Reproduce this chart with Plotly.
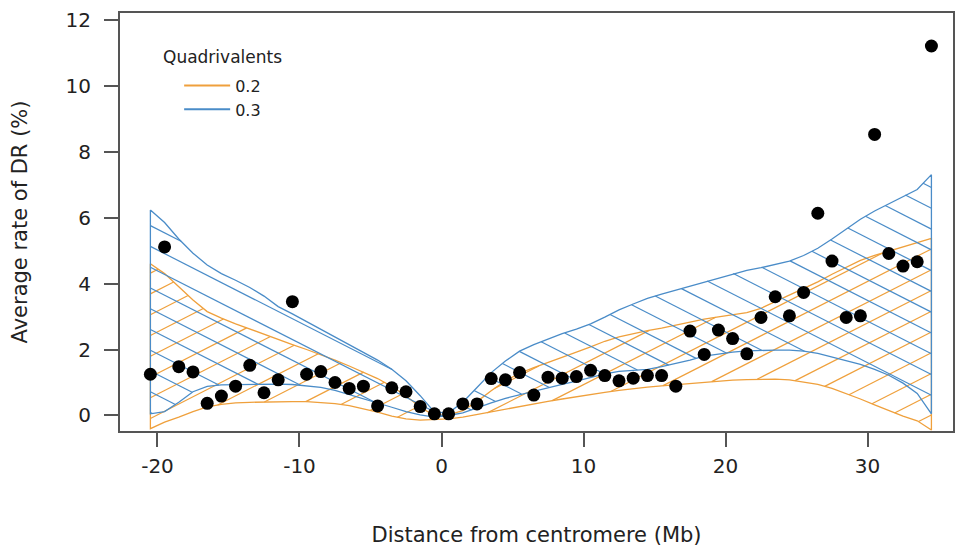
import numpy as np
import plotly.graph_objects as go

# ---- data ----
POINT_X = [-20.5, -19.5, -18.5, -17.5, -16.5, -15.5, -14.5, -13.5, -12.5, -11.5,
           -10.5, -9.5, -8.5, -7.5, -6.5, -5.5, -4.5, -3.5, -2.5, -1.5, -0.5,
           0.5, 1.5, 2.5, 3.5, 4.5, 5.5, 6.5, 7.5, 8.5, 9.5, 10.5, 11.5, 12.5,
           13.5, 14.5, 15.5, 16.5, 17.5, 18.5, 19.5, 20.5, 21.5, 22.5, 23.5,
           24.5, 25.5, 26.5, 27.5, 28.5, 29.5, 30.5, 31.5, 32.5, 33.5, 34.5]
POINT_Y = [1.25, 5.11, 1.48, 1.32, 0.37, 0.59, 0.89, 1.52, 0.69, 1.08,
           3.45, 1.25, 1.33, 1.00, 0.82, 0.89, 0.29, 0.84, 0.72, 0.27, 0.05,
           0.05, 0.35, 0.35, 1.12, 1.08, 1.30, 0.62, 1.16, 1.13, 1.18, 1.37, 1.21, 1.05,
           1.13, 1.21, 1.21, 0.89, 2.56, 1.85, 2.59, 2.33, 1.87, 2.97, 3.60,
           3.02, 3.73, 6.13, 4.68, 2.97, 3.02, 8.52, 4.91, 4.53, 4.66, 11.2]

BAND_X = POINT_X
# Quadrivalents 0.3 (blue) band
BLUE_UPPER = [6.23, 5.85, 5.35, 4.92, 4.56, 4.30, 4.10, 3.88, 3.62, 3.30,
              3.08, 2.85, 2.62, 2.38, 2.15, 1.92, 1.68, 1.40, 1.05, 0.60, 0.10,
              0.08, 0.40, 0.85, 1.30, 1.65, 1.95, 2.15, 2.32, 2.48, 2.62, 2.78, 2.98, 3.20,
              3.38, 3.55, 3.68, 3.80, 3.92, 4.05, 4.18, 4.30, 4.40, 4.48, 4.57,
              4.68, 4.85, 5.07, 5.35, 5.65, 5.95, 6.20, 6.42, 6.65, 6.85, 7.30]
BLUE_LOWER = [0.05, 0.12, 0.40, 0.72, 0.88, 0.93, 0.93, 0.94, 0.95, 0.95,
              0.94, 0.90, 0.85, 0.76, 0.65, 0.50, 0.38, 0.25, 0.12, 0.02, -0.05,
              0.00, 0.08, 0.22, 0.38, 0.52, 0.64, 0.74, 0.84, 0.94, 1.04, 1.14, 1.26, 1.34,
              1.37, 1.40, 1.48, 1.57, 1.68, 1.80, 1.86, 1.92, 1.96, 1.97, 1.98,
              1.98, 1.95, 1.88, 1.78, 1.66, 1.55, 1.40, 1.22, 0.98, 0.67, 0.05]
# Quadrivalents 0.2 (orange) band
ORANGE_UPPER = [4.60, 4.30, 3.90, 3.50, 3.15, 2.95, 2.78, 2.62, 2.45, 2.30,
                2.15, 2.00, 1.85, 1.68, 1.50, 1.32, 1.12, 0.88, 0.60, 0.25, 0.00,
                0.02, 0.15, 0.42, 0.75, 1.05, 1.28, 1.45, 1.60, 1.75, 1.92, 2.08, 2.25, 2.38,
                2.48, 2.57, 2.65, 2.74, 2.84, 2.92, 2.99, 3.06, 3.12, 3.25, 3.45,
                3.65, 3.85, 4.05, 4.28, 4.50, 4.70, 4.85, 4.98, 5.12, 5.25, 5.37]
ORANGE_LOWER = [-0.40, -0.20, -0.05, 0.12, 0.26, 0.34, 0.38, 0.40, 0.41, 0.42,
                0.42, 0.42, 0.40, 0.36, 0.30, 0.20, 0.10, -0.02, -0.10, -0.14, -0.12,
                -0.10, -0.05, 0.02, 0.10, 0.18, 0.27, 0.35, 0.43, 0.50, 0.57, 0.64, 0.70, 0.76,
                0.82, 0.86, 0.90, 0.94, 0.98, 1.01, 1.04, 1.07, 1.09, 1.10, 1.10,
                1.08, 1.02, 0.94, 0.82, 0.66, 0.50, 0.32, 0.14, -0.02, -0.16, -0.44]

X_TICKS = [-20, -10, 0, 10, 20, 30]
X_TICK_TEXT = ["-20", "-10", "0", "10", "20", "30"]
Y_TICKS = [0, 2, 4, 6, 8, 10, 12]
Y_TICK_TEXT = ["0", "2", "4", "6", "8", "10", "12"]
SERIES_NAMES = ["0.2", "0.3"]
LEGEND_TITLE = "Quadrivalents"
X_TITLE = "Distance from centromere (Mb)"
Y_TITLE = "Average rate of DR (%)"

# ---- style ----
ORANGE = "#EFA03C"
BLUE = "#4A8CC8"
AXIS = "#555555"
TEXT = "#222222"
FONT = "DejaVu Sans"
W, H = 960, 547
M = dict(l=120, r=7, t=13, b=116)
X_RANGE = [-22.64, 36.02]
Y_RANGE = [-0.47, 12.2]
KX = (W - M["l"] - M["r"]) / (X_RANGE[1] - X_RANGE[0])   # px per x unit
KY = (H - M["t"] - M["b"]) / (Y_RANGE[1] - Y_RANGE[0])   # px per y unit


def hatch_lines(lower, upper, angle_deg, spacing_px, phase=0.0):
    """Straight hatch segments clipped to the band between lower and upper."""
    xg = np.asarray(BAND_X, float)
    xs = np.linspace(xg[0], xg[-1], 8000)
    lo = np.interp(xs, xg, lower) * KY
    up = np.interp(xs, xg, upper) * KY
    X = xs * KX
    m = np.tan(np.radians(angle_deg))
    step = spacing_px / np.cos(np.radians(angle_deg))
    cmin = (lo - m * X).min()
    cmax = (up - m * X).max()
    ox, oy = [], []
    for c in np.arange(np.floor(cmin / step) * step + phase, cmax + step, step):
        Yl = m * X + c
        inside = (Yl >= lo) & (Yl <= up)
        if not inside.any():
            continue
        d = np.diff(inside.astype(int))
        starts = list(np.where(d == 1)[0] + 1)
        ends = list(np.where(d == -1)[0])
        if inside[0]:
            starts.insert(0, 0)
        if inside[-1]:
            ends.append(len(xs) - 1)
        for s, e in zip(starts, ends):
            if e > s:
                ox += [xs[s], xs[e], None]
                oy += [Yl[s] / KY, Yl[e] / KY, None]
    return ox, oy


fig = go.Figure()


def band(lower, upper, color, angle):
    hx, hy = hatch_lines(lower, upper, angle, 18.5)
    fig.add_trace(go.Scatter(x=hx, y=hy, mode="lines",
                             line=dict(color=color, width=1.2),
                             showlegend=False, hoverinfo="skip"))
    xs = list(BAND_X) + list(BAND_X[::-1]) + [BAND_X[0]]
    ys = list(upper) + list(lower[::-1]) + [upper[0]]
    fig.add_trace(go.Scatter(x=xs, y=ys, mode="lines",
                             line=dict(color=color, width=1.3),
                             showlegend=False, hoverinfo="skip"))


band(ORANGE_LOWER, ORANGE_UPPER, ORANGE, 27)
band(BLUE_LOWER, BLUE_UPPER, BLUE, -27)

fig.add_trace(go.Scatter(x=POINT_X, y=POINT_Y, mode="markers",
                         marker=dict(color="black", size=13),
                         showlegend=False, hoverinfo="skip"))

# legend entries
for name, col in zip(SERIES_NAMES, [ORANGE, BLUE]):
    fig.add_trace(go.Scatter(x=[None], y=[None], mode="lines", name=name,
                             line=dict(color=col, width=2)))

fig.update_xaxes(range=X_RANGE, tickvals=X_TICKS, ticktext=X_TICK_TEXT,
                 ticks="outside", ticklen=14, tickwidth=1.5, tickcolor=AXIS,
                 showline=True, linecolor=AXIS, linewidth=2, mirror=True,
                 showgrid=False, zeroline=False, ticklabelstandoff=2,
                 tickfont=dict(size=20, family=FONT, color=TEXT),
                 title=dict(text=X_TITLE, font=dict(size=21, family=FONT, color=TEXT),
                            standoff=51))
fig.update_yaxes(range=Y_RANGE, tickvals=Y_TICKS, ticktext=Y_TICK_TEXT,
                 ticks="outside", ticklen=14, tickwidth=1.5, tickcolor=AXIS,
                 showline=True, linecolor=AXIS, linewidth=2, mirror=True,
                 showgrid=False, zeroline=False, ticklabelstandoff=9,
                 tickfont=dict(size=20, family=FONT, color=TEXT),
                 title=dict(text=Y_TITLE, font=dict(size=21, family=FONT, color=TEXT),
                            standoff=32))

fig.update_layout(
    width=W, height=H,
    margin=dict(**M, autoexpand=False),
    plot_bgcolor="white", paper_bgcolor="white",
    legend=dict(x=0.071, y=0.867, xanchor="left", yanchor="top",
                font=dict(size=16, family=FONT, color=TEXT),
                itemwidth=46,
                bgcolor="rgba(0,0,0,0)", tracegroupgap=0),
    annotations=[dict(text=LEGEND_TITLE, xref="paper", yref="paper",
                      x=(222 - M["l"]) / (W - M["l"] - M["r"]),
                      y=(H - M["b"] - 57) / (H - M["t"] - M["b"]),
                      xanchor="center", yanchor="middle", showarrow=False,
                      font=dict(size=17, family=FONT, color=TEXT))],
)

fig.write_html("out.html", config={"displayModeBar": False},
               post_script="document.body.style.margin='0';")
